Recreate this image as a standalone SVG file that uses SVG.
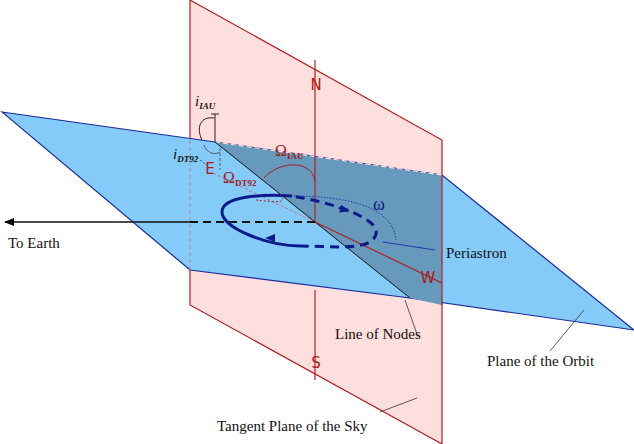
<svg xmlns="http://www.w3.org/2000/svg" width="634" height="444" viewBox="0 0 634 444">
<defs>
<style>
text{font-family:"Liberation Serif",serif;font-size:15px;fill:#111}
.red{fill:#b01818;font-family:"DejaVu Sans",sans-serif;font-size:15px}
.leader{stroke:#333;stroke-width:0.8;fill:none}
</style>
<marker id="ah" markerWidth="10" markerHeight="8" refX="9" refY="4" orient="auto" markerUnits="userSpaceOnUse"><path d="M0,0L10,4L0,8z" fill="#000"/></marker>
<marker id="ab" markerWidth="10" markerHeight="8" refX="5" refY="4" orient="auto" markerUnits="userSpaceOnUse"><path d="M0,0L10,4L0,8z" fill="#0a1a8a"/></marker>
</defs>
<g id="sky"><path d="M190,0L442,140L442,444L190,305Z" fill="#ffdede" stroke="#b02020" stroke-width="1.2"/></g>
<g id="orbit">
<path d="M2,112L215,142L442,175L634,330L410,298L190,270Z" fill="#85cbfa" stroke="#1a2a9a" stroke-width="1.2"/>
<path d="M215,142L442,175L442,305L410,298Z" fill="#6699bb"/>
<path d="M215,142L442,175" stroke="#ffdede" stroke-width="1.2" stroke-dasharray="5,3" fill="none"/>
<path d="M190,119V270" stroke="#c08090" stroke-dasharray="4,3" fill="none"/>
<path d="M442,175V305" stroke="#b02020" stroke-width="1.2"/>
</g>
<g id="connectors">
<path d="M315,60V222" stroke="#b02020" stroke-width="1.2"/>
<path d="M315,290V380" stroke="#b02020" stroke-width="1.2"/>
<path d="M215,142L410,298" stroke="#111" stroke-width="1"/>
<path d="M315,222L442,283" stroke="#b02020" stroke-width="1.2"/>
<path d="M315,222L215,174" stroke="#c07080" stroke-dasharray="3,2" fill="none"/>
<path d="M315,222H190" stroke="#111" stroke-width="2" stroke-dasharray="8,5"/>
<path d="M190,222H5" stroke="#111" stroke-width="1.6" marker-end="url(#ah)"/>
<path d="M292,196 C262,194 222,196 222,212 C222,228 268,246 300,246" stroke="#0a1a8a" stroke-width="3" fill="none"/>
<path d="M300,246 C330,246 372,252 376,234 C380,220 340,204 292,196" stroke="#0a1a8a" stroke-width="3" stroke-dasharray="9,6" fill="none"/>
<path d="M275,238L270,238" stroke="#0a1a8a" marker-end="url(#ab)"/>
<path d="M338,208L345,210" stroke="#0a1a8a" marker-end="url(#ab)"/>
<path d="M383,242L435,250" stroke="#1a3aaa" stroke-width="1"/>
<path d="M288,196 C330,196 392,200 396,240" stroke="#1a3aaa" stroke-dasharray="1.5,1.5" fill="none"/>
<path d="M215,114V142" stroke="#222"/>
<path d="M211,114H219" stroke="#222"/>
<path d="M214,118 C200,116 196,128 202,140" stroke="#222" fill="none"/>
<path d="M204,145 C206,152 214,156 220,152" stroke="#556" fill="none"/>
<path d="M220,148V170" stroke="#556" stroke-dasharray="3,2"/>
<path d="M264,178 C280,160 312,160 315,181" stroke="#a02020" fill="none"/>
<path d="M280,194 C283,200 290,204 256,200" stroke="#a02020" stroke-dasharray="2,2" fill="none"/>
<path d="M200,160L208,166" class="leader" stroke-dasharray="2,2"/>
<path d="M405,300L418,337" class="leader"/>
<path d="M550,351L584,310" class="leader"/>
<path d="M380,412L417,398" class="leader"/>
</g>
<g id="labels">
<text x="316" y="90" class="red" text-anchor="middle">N</text>
<text x="316" y="368" class="red" text-anchor="middle">S</text>
<text x="210" y="174" class="red" text-anchor="middle">E</text>
<text x="428" y="283" class="red" text-anchor="middle">W</text>
<text x="195" y="106" font-style="italic">i<tspan font-size="9" font-weight="bold" dy="3">IAU</tspan></text>
<text x="173" y="159" font-style="italic">i<tspan font-size="9" font-weight="bold" dy="3">DT92</tspan></text>
<text x="275" y="156" style="fill:#a02020;font-size:16px">Ω<tspan font-size="9" font-weight="bold" dy="3">IAU</tspan></text>
<text x="223" y="183" style="fill:#a02020;font-size:16px">Ω<tspan font-size="9" font-weight="bold" dy="3">DT92</tspan></text>
<text x="373" y="210" style="fill:#0a1a8a;font-size:18px">ω</text>
<text x="8" y="248">To Earth</text>
<text x="446" y="258">Periastron</text>
<text x="335" y="339">Line of Nodes</text>
<text x="487" y="366">Plane of the Orbit</text>
<text x="217" y="431">Tangent Plane of the Sky</text>
</g>
</svg>
